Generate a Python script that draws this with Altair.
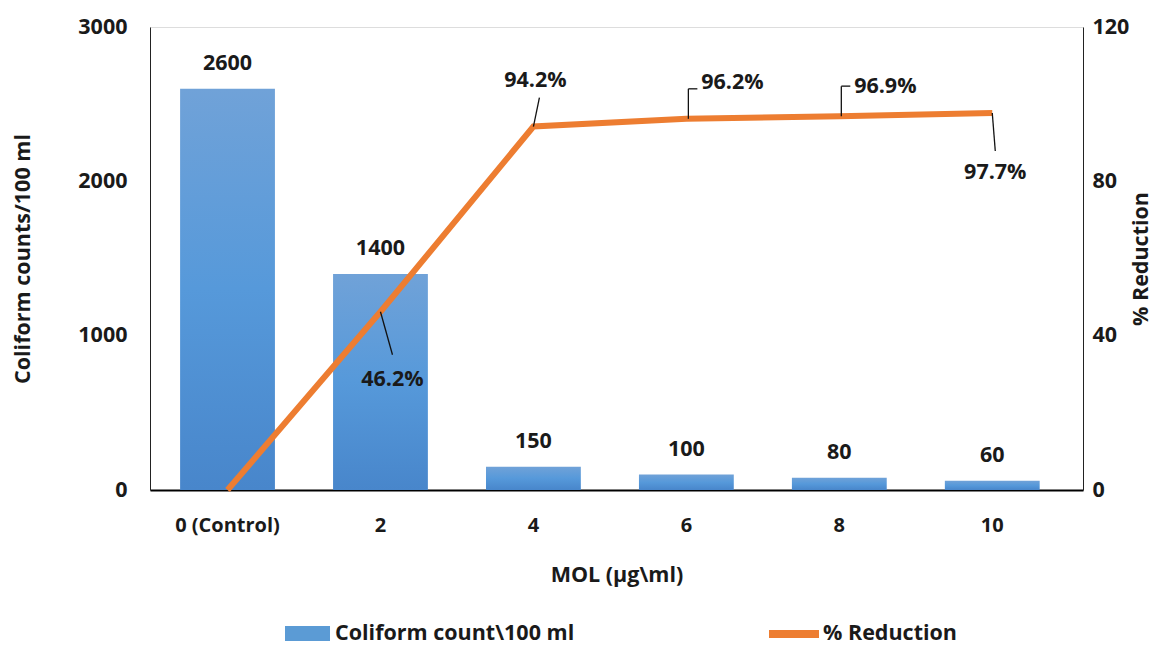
import altair as alt
import pandas as pd

categories = ["0 (Control)", "2", "4", "6", "8", "10"]
coliform = [2600, 1400, 150, 100, 80, 60]
reduction = [0.0, 46.2, 94.2, 96.2, 96.9, 97.7]
reduction_labels = ["", "46.2%", "94.2%", "96.2%", "96.9%", "97.7%"]
bar_series = "Coliform count\\100 ml"
line_series = "% Reduction"

df = pd.DataFrame({
    "MOL": categories,
    "count": coliform,
    "pct": reduction,
    "pct_label": reduction_labels,
    "bar_series": bar_series,
    "line_series": line_series,
})

FONT = "Open Sans"
TXT = "#1a1a1a"
FS = 21.5
FSX = 20

x_enc = alt.X(
    "MOL:N", sort=categories,
    scale=alt.Scale(paddingInner=0.38, paddingOuter=0.24, align=0.41),
    axis=alt.Axis(title="MOL (µg\\ml)", labelAngle=0, ticks=False, grid=False,
                  domainColor="#000", domainWidth=2, labelPadding=25, titlePadding=29,
                  labelFont=FONT, labelFontSize=FSX, labelFontWeight="bold", labelColor=TXT,
                  titleFont=FONT, titleFontSize=FS, titleFontWeight="bold", titleColor=TXT),
)

left_axis = alt.Axis(title="Coliform counts/100 ml", values=[0, 1000, 2000, 3000], ticks=False,
                     format="d",
                     grid=False, domainColor="#222", domainWidth=1, labelPadding=23, titlePadding=43,
                     labelFont=FONT, labelFontSize=FS, labelFontWeight="bold", labelColor=TXT,
                     titleFont=FONT, titleFontSize=FS, titleFontWeight="bold", titleColor=TXT)
right_axis = alt.Axis(title="% Reduction", orient="right", values=[0, 40, 80, 120], ticks=False,
                      format="d", titleAngle=270, titleBaseline="top",
                      grid=False, domainColor="#222", domainWidth=1, labelPadding=9, titlePadding=2,
                      labelFont=FONT, labelFontSize=FS, labelFontWeight="bold", labelColor=TXT,
                      titleFont=FONT, titleFontSize=FS, titleFontWeight="bold", titleColor=TXT)

def yl():
    return alt.Y("count:Q", scale=alt.Scale(domain=[0, 3000]), axis=left_axis)

def yr():
    return alt.Y("pct:Q", scale=alt.Scale(domain=[0, 120]), axis=right_axis)

gradient = alt.Gradient(
    gradient="linear",
    stops=[alt.GradientStop(color="#70A2D8", offset=0),
           alt.GradientStop(color="#5699DA", offset=0.5),
           alt.GradientStop(color="#4886CB", offset=1)],
    x1=0, x2=0, y1=0, y2=1,
)

base = alt.Chart(df)

bars = base.mark_bar(color=gradient).encode(x=x_enc, y=yl())

bar_legend = base.mark_bar(opacity=0).encode(
    x=x_enc, y=yl(),
    color=alt.Color("bar_series:N", scale=alt.Scale(domain=[bar_series], range=["#5B9BD5"]),
                    legend=alt.Legend(orient="none", legendX=135, legendY=584, title=None,
                                      symbolType="M-1,-0.33H1V0.33H-1Z", symbolSize=2025,
                                      symbolOpacity=1, symbolStrokeWidth=0, labelOffset=5, padding=0,
                                      labelFont=FONT, labelFontSize=FS, labelFontWeight="bold",
                                      labelColor=TXT, labelLimit=400)),
)

bar_text = base.mark_text(dy=-14, baseline="bottom", font=FONT, fontSize=FS,
                          fontWeight="bold", color=TXT).encode(
    x=x_enc, y=yl(), text=alt.Text("count:Q"))

left = alt.layer(bars, bar_legend, bar_text)

line = base.mark_line(strokeWidth=6, strokeCap="butt").encode(
    x=x_enc, y=yr(),
    color=alt.Color("line_series:N", scale=alt.Scale(domain=[line_series], range=["#ED7D31"]),
                    legend=alt.Legend(orient="none", legendX=615, legendY=578, title=None,
                                      symbolType="stroke", symbolSize=2500, symbolStrokeWidth=8,
                                      labelOffset=0, padding=0,
                                      labelFont=FONT, labelFontSize=FS, labelFontWeight="bold",
                                      labelColor=TXT, labelLimit=400)),
)

def pct_label(cat, dx, dy):
    return base.transform_filter(alt.datum.MOL == cat).mark_text(
        dx=dx, dy=dy, font=FONT, fontSize=FS, fontWeight="bold", color=TXT, baseline="middle"
    ).encode(x=x_enc, y=yr(), text="pct_label:N")

def leader(cat, x1, y1, x2, y2):
    return base.transform_filter(alt.datum.MOL == cat).mark_rule(
        color="#111", strokeWidth=1.3, xOffset=x1, yOffset=y1, x2Offset=x2, y2Offset=y2
    ).encode(x=x_enc, x2=alt.X2("MOL:N"), y=yr(), y2=alt.Y2("pct:Q"))

labels = [
    pct_label("2", 12, 68),
    pct_label("4", 2, -46),
    pct_label("6", 46, -36),
    pct_label("8", 46, -29),
    pct_label("10", 3, 60),
]
leaders = [
    leader("2", 0, 0, 12, 43),
    leader("4", 0, 0, 6, -29),
    leader("6", 2, 0, 2, -30),
    leader("6", 2, -30, 11, -30),
    leader("8", 2, 0, 2, -30),
    leader("8", 2, -30, 11, -30),
    leader("10", 0, 0, 3, 38),
]

right = alt.layer(line, *leaders, *labels)

chart = alt.layer(left, right).resolve_scale(y="independent", color="independent").properties(
    width=933, height=463,
    autosize=alt.AutoSizeParams(type="none"),
    padding={"left": 142, "top": 19, "right": 70, "bottom": 155},
).configure_view(stroke=None).configure(background="white")

chart.save("out.html", embed_options={"renderer": "svg", "actions": False})
